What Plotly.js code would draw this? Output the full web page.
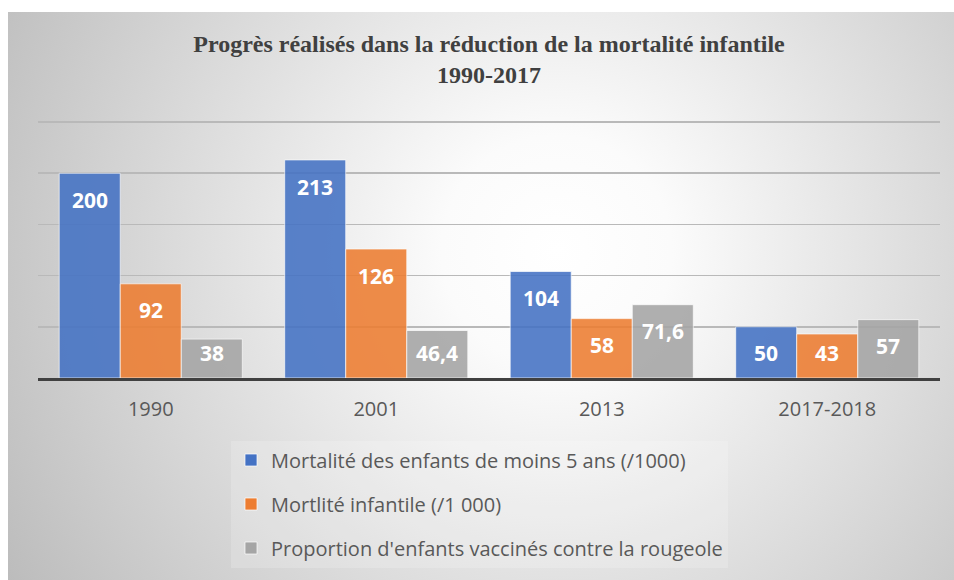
<!DOCTYPE html>
<html>
<head>
<meta charset="utf-8">
<script src="https://cdn.plot.ly/plotly-3.0.1.min.js"></script>
<style>
  html, body { margin: 0; padding: 0; background: #ffffff; }
  #wrap { position: relative; width: 954px; height: 580px; overflow: hidden; }
  #bg { position: absolute; left: 8px; top: 12px; width: 946px; height: 568px;
        background: radial-gradient(circle farthest-corner at 58% 42%, #ffffff 0%, #fbfbfb 18%, #bcbcbc 100%); }
  #chart { position: absolute; left: 0; top: 0; width: 954px; height: 580px; }
</style>
</head>
<body>
<div id="wrap"><div id="bg"></div><div id="chart"></div></div>
<script>
const categories = ["1990", "2001", "2013", "2017-2018"];
const seriesNames = [
  "Mortalité des enfants de moins 5 ans (/1000)",
  "Mortlité infantile (/1 000)",
  "Proportion d'enfants vaccinés contre la rougeole"
];
const under5Mortality = [200, 213, 104, 50];
const infantMortality = [92, 126, 58, 43];
const measlesVaccinated = [38, 46.4, 71.6, 57];
const chartTitle = "Progrès réalisés dans la réduction de la mortalité infantile<br>1990-2017";

const seriesValues = [under5Mortality, infantMortality, measlesVaccinated];
const colors = ["#4472C4", "#ED7D31", "#A5A5A5"];
const bargap = 0.188;
const barW = (1 - bargap) / 3;

const traces = seriesValues.map((vals, j) => ({
  type: "bar",
  name: seriesNames[j],
  x: categories,
  y: vals,
  marker: { color: colors[j], opacity: 0.88, line: { color: "rgba(255,255,255,0.7)", width: 1 } },
  legendgroup: "g" + j,
  hoverinfo: "skip"
}));

const fmt = v => String(v).replace(".", ",");
const annotations = [];
seriesValues.forEach((vals, j) => {
  vals.forEach((v, i) => {
    annotations.push({
      x: i + (j - 1) * barW,
      y: Math.max(v - 26, 24.5),
      xref: "x", yref: "y",
      text: fmt(v),
      showarrow: false,
      yanchor: "middle", xanchor: "center",
      font: { family: "Open Sans, sans-serif", size: 21, color: "#ffffff", weight: "bold" }
    });
  });
});

const layout = {
  width: 954, height: 580,
  paper_bgcolor: "rgba(0,0,0,0)",
  plot_bgcolor: "rgba(0,0,0,0)",
  margin: { l: 38, r: 14, t: 120, b: 200 },
  barmode: "group",
  bargap: bargap,
  bargroupgap: 0,
  title: {
    text: chartTitle,
    x: 0.5, xref: "paper", xanchor: "center",
    y: 1 - 52 / 580, yref: "container", yanchor: "top",
    font: { family: "Liberation Serif, Times New Roman, serif", size: 24, color: "#404040", weight: "bold" }
  },
  xaxis: {
    type: "category",
    showgrid: false,
    showline: true, linecolor: "#404040", linewidth: 3,
    ticks: "",
    ticklabelstandoff: 11,
    tickfont: { family: "Open Sans, sans-serif", size: 20, color: "#595959" },
    fixedrange: true
  },
  yaxis: {
    range: [0, 252],
    dtick: 50, tick0: 0,
    showticklabels: false,
    showgrid: true, gridcolor: "#b9b9b9", gridwidth: 1.5,
    zeroline: false,
    ticks: "",
    fixedrange: true
  },
  showlegend: true,
  legend: {
    orientation: "v",
    x: (231 - 38) / 902, xanchor: "left",
    y: (380 - 443) / 260, yanchor: "top",
    traceorder: "grouped",
    tracegroupgap: 15,
    bgcolor: "rgba(255,255,255,0.18)",
    font: { family: "Open Sans, sans-serif", size: 20, color: "#595959" },
    itemclick: false, itemdoubleclick: false
  },
  annotations: annotations
};

Plotly.newPlot("chart", traces, layout, { displayModeBar: false, staticPlot: true });
</script>
</body>
</html>
